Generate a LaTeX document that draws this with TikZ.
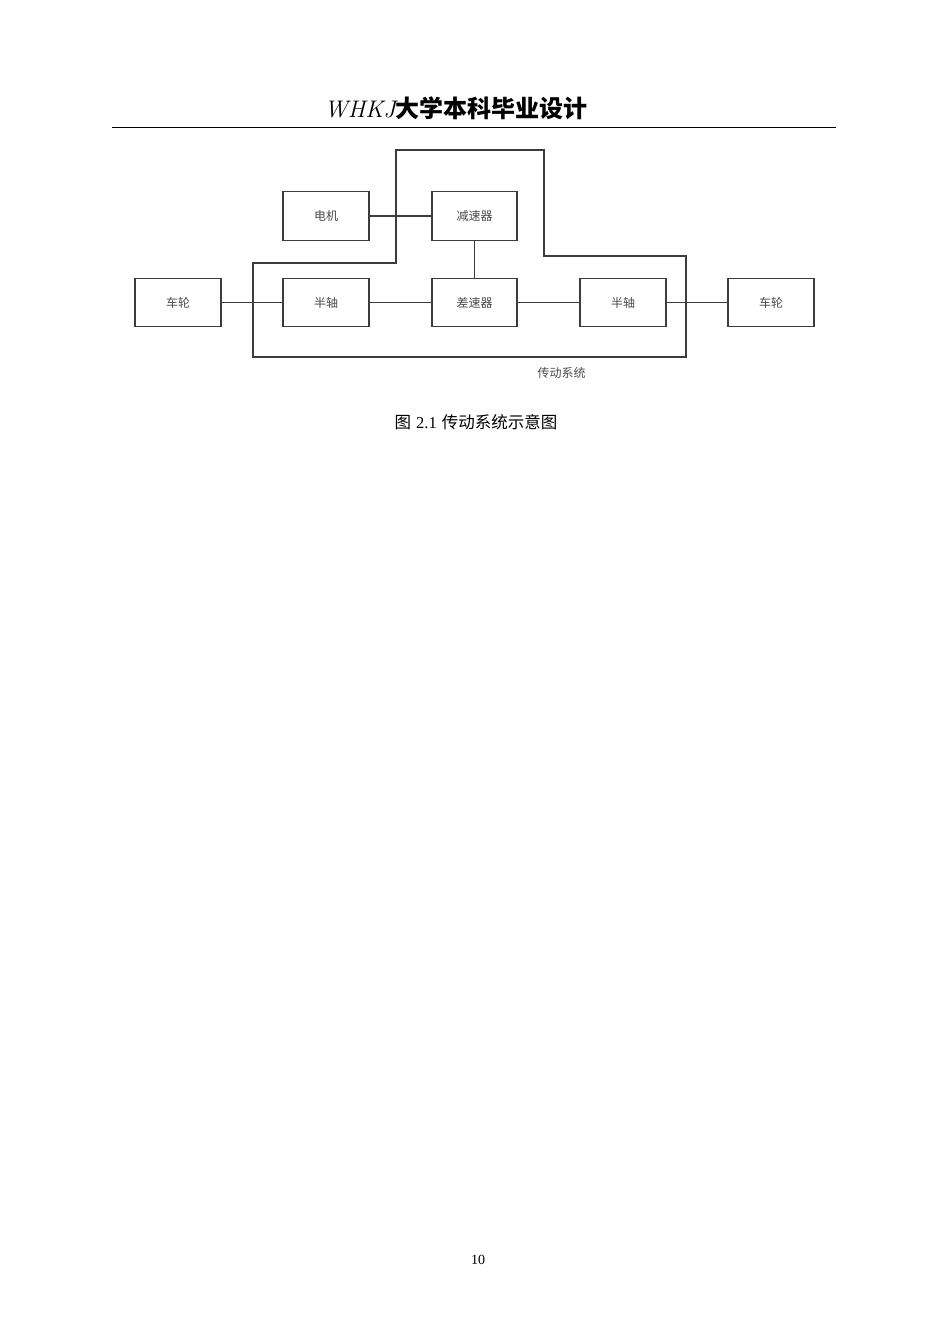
\documentclass[tikz,border=0pt]{standalone}
\usepackage{fontspec}
\newfontfamily\cjk{Noto Sans CJK SC}
\newfontfamily\tnr{Liberation Serif}
\definecolor{boxline}{HTML}{3C3C3C}
\definecolor{boxtext}{HTML}{4A4A4A}
\begin{document}
\begin{tikzpicture}[x=1pt,y=-1pt,
  blk/.style={draw=boxline,line width=1.2pt,minimum width=86pt,minimum height=48.5pt,inner sep=0pt,font=\cjk\fontsize{12}{14}\selectfont,text=boxtext},
  wire/.style={draw=boxline,line width=1.2pt},
  frame/.style={draw=boxline,line width=1.2pt,line join=miter}]
\useasboundingbox[fill=white] (0,0) rectangle (950,1344);
% header
\node[inner sep=0pt] (hdr) at (456,108) {\fontsize{24}{28}\selectfont{\itshape WHKJ}{\cjk\bfseries 大学本科毕业设计}};
\coordinate (hl1) at (112,127);
\coordinate (hl2) at (836,127);
\draw[line width=1pt] (hl1) -- (hl2);
% blocks
\node[blk] (cl) at (178,302.5) {车轮};
\node[blk] (mo) at (326,216) {电机};
\node[blk] (hl) at (326,302.5) {半轴};
\node[blk,minimum width=85pt] (rd) at (474.5,216) {减速器};
\node[blk,minimum width=85pt] (df) at (474.5,302.5) {差速器};
\node[blk] (hr) at (623,302.5) {半轴};
\node[blk] (cr) at (771,302.5) {车轮};
% connectors
\draw[wire] (cl.east) -- (hl.west);
\draw[wire] (hl.east) -- (df.west);
\draw[wire] (df.east) -- (hr.west);
\draw[wire] (hr.east) -- (cr.west);
\draw[wire] (mo.east) -- (rd.west);
\draw[wire] (rd.south) -- (df.north);
% system boundary
\coordinate (p1) at (396,150);
\coordinate (p2) at (544,150);
\coordinate (p3) at (544,256);
\coordinate (p4) at (686,256);
\coordinate (p5) at (686,357);
\coordinate (p6) at (253,357);
\coordinate (p7) at (253,263);
\coordinate (p8) at (396,263);
\draw[frame] (p1) -- (p2) -- (p3) -- (p4) -- (p5) -- (p6) -- (p7) -- (p8) -- cycle;
\node[font=\cjk\fontsize{12}{14}\selectfont,text=boxtext,inner sep=0pt] (sys) at (561.5,373) {传动系统};
% caption
\node[inner sep=0pt] (cap) at (476,422.5) {\fontsize{16.5}{20}\selectfont{\cjk 图} {\tnr 2.1} {\cjk 传动系统示意图}};
% page number
\node[inner sep=0pt] (pg) at (478,1259.5) {\tnr\fontsize{14}{16}\selectfont 10};
\end{tikzpicture}
\end{document}
